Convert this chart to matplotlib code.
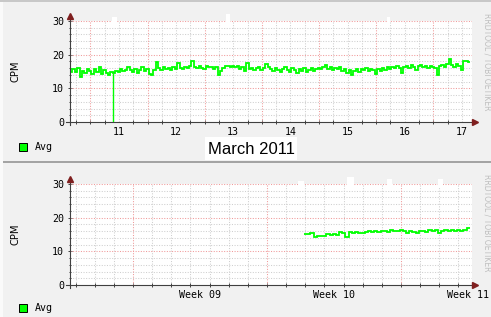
import numpy as np
import matplotlib
matplotlib.use('Agg')
import matplotlib.pyplot as plt
from matplotlib.patches import Rectangle

W, H = 491, 317

# time axis: days relative to Mon 14 March 2011 00:00
# hourly CPM averages for the week graph
week_start = -3.357
week_cpm = [14.8, 15.6, 14.9, 15.9, 13.4, 15.2, 14.6, 15.8, 15.1, 14.4, 15.6, 15.0,
            16.2, 14.2, 15.3, 14.6, 14.0, 14.8, 14.6, 15.2, 14.9, 15.6, 15.1, 15.4,
            16.4, 15.5, 15.0, 15.8, 14.7, 15.3, 16.2, 15.1, 15.6, 14.4, 13.9, 15.5,
            17.8, 15.9, 15.4, 16.2, 15.6, 16.0, 15.5, 16.3, 15.8, 17.6, 16.1, 15.7,
            16.4, 16.0, 16.6, 18.0, 16.2, 15.9, 16.5, 16.1, 15.8, 16.6, 16.2, 16.4,
            15.6, 16.3, 13.9, 15.2, 16.0, 16.5, 16.6, 16.4, 16.5, 16.2, 16.7, 15.6,
            16.3, 15.2, 17.4, 15.6, 16.1, 15.4, 15.9, 16.2, 15.5, 16.0, 17.3, 16.3,
            15.8, 15.2, 16.0, 15.4, 14.9, 15.7, 16.2, 15.3, 14.8, 15.9, 15.5, 14.6,
            15.8, 15.1, 16.0, 14.9, 15.5, 15.9, 15.2, 15.8, 16.1, 15.6, 16.3, 17.0,
            15.7, 16.2, 15.4, 15.9, 15.8, 16.3, 15.1, 15.7, 14.6, 15.4, 13.9, 15.2,
            15.8, 15.0, 15.6, 15.3, 15.9, 15.1, 15.6, 15.4, 14.4, 15.7, 15.2, 16.0,
            15.5, 16.2, 15.8, 16.4, 16.0, 16.6, 15.9, 14.6, 16.2, 16.5, 16.1, 16.8,
            16.3, 15.5, 16.6, 16.9, 16.2, 16.5, 16.1, 16.7, 16.4, 15.9, 13.9, 16.5,
            17.0, 16.4, 17.2, 18.8, 16.9, 16.3, 17.1, 16.6, 15.3, 18.1, 18.1, 17.8]
# short dropout to zero in the hourly log
dropout_t = -2.604
dropout_cpm = 0.0

# 4-hour CPM averages for the month graph
month_start = -5.068
month_cpm = [15.1, 15.1, 15.3, 14.3, 14.5, 14.6, 14.5, 15.1, 14.8, 15.2, 14.9, 15.7,
             15.3, 14.4, 15.6, 15.3, 15.8, 15.5, 15.3, 15.7, 16.0, 15.8, 16.1, 15.7,
             15.9, 16.0, 15.6, 16.4, 16.1, 16.0, 16.2, 15.9, 15.5, 16.0, 15.8, 15.3,
             15.9, 16.1, 15.8, 16.2, 16.0, 16.3, 15.4, 16.0, 16.2, 15.9, 16.2, 16.1,
             16.4, 16.0, 16.3, 16.9]

day_labels = ['11', '12', '13', '14', '15', '16', '17']
week_labels = ['Week 09', 'Week 10', 'Week 11']
week_mondays = [-14, -7, 0]

# white strips sticking out above the plot: (from, to, height above 30)
week_strips = [(-2.622, -2.535, 1.04), (-0.627, -0.557, 1.074), (2.190, 2.243, 1.035)]
month_strips = [(-5.378, -5.064, 1.03), (-2.818, -2.452, 1.07),
                (-0.728, -0.466, 1.05), (1.937, 2.198, 1.05)]

BACK = '#F1F1F1'
GRID = '#CFCFCF'
MGRID = '#F09A9A'
AXIS = '#404040'
ARROW = '#7F1F1F'
LINE = '#00FF00'
MONO = 'DejaVu Sans Mono'


def fx(px):
    return px / W


def fy(py):
    return 1 - py / H


def setup(ax, xlim, minor_x, major_x, label_x, labels, strips):
    ax.set_xlim(*xlim)
    ax.set_ylim(0, 30)
    ax.set_facecolor('white')
    for s in ax.spines.values():
        s.set_visible(False)
    dots = (0, (1, 1.5))
    ymin = [v for v in range(2, 30, 2) if v % 10]
    ax.hlines(ymin, xlim[0], xlim[1], colors=GRID, linestyles=dots, lw=0.75, zorder=1)
    ax.vlines(minor_x, 0, 30, colors=GRID, linestyles=dots, lw=0.75, zorder=1)
    ax.hlines([10, 20, 30], xlim[0], xlim[1], colors=MGRID, linestyles=dots, lw=0.75, zorder=2)
    ax.vlines(major_x, 0, 30, colors=MGRID, linestyles=dots, lw=0.75, zorder=2)

    for a, b, top in strips:
        ax.add_patch(Rectangle((a, 0.96), b - a, top - 0.96, facecolor='white',
                               edgecolor='none', transform=ax.get_xaxis_transform(),
                               clip_on=False, zorder=3))

    ax.set_xticks(label_x, labels)
    ax.set_xticks(np.concatenate([minor_x, major_x]), minor=True)
    ax.set_yticks([0, 10, 20, 30])
    ax.set_yticks(ymin, minor=True)
    ax.tick_params(axis='x', which='major', length=0, pad=3.5, labelsize=7.2)
    ax.tick_params(axis='x', which='minor', length=3, direction='inout', color=AXIS, width=0.7)
    ax.tick_params(axis='y', which='major', length=2.5, direction='inout', color=AXIS,
                   width=0.7, pad=3, labelsize=7.2)
    ax.tick_params(axis='y', which='minor', length=2, direction='inout', color=AXIS, width=0.7)
    for t in ax.get_xticklabels() + ax.get_yticklabels():
        t.set_family(MONO)

    # axes with arrow heads
    ax.plot([-4 / 402, 1 + 2 / 402], [0, 0], transform=ax.transAxes, color=AXIS,
            lw=0.8, clip_on=False, zorder=5)
    ax.plot([0, 0], [-3 / 101, 1 + 4 / 101], transform=ax.transAxes, color=AXIS,
            lw=0.8, clip_on=False, zorder=5)
    ax.plot([1 + 3 / 402], [0], marker='>', ms=4, color=ARROW, transform=ax.transAxes,
            clip_on=False, zorder=6)
    ax.plot([0], [1 + 5 / 101], marker='^', ms=4, color=ARROW, transform=ax.transAxes,
            clip_on=False, zorder=6)
    ax.set_ylabel('CPM', fontsize=7.2, family='DejaVu Sans', labelpad=23)


fig = plt.figure(figsize=(W / 100, H / 100), dpi=100, facecolor=BACK)

# frame shading
fig.add_artist(Rectangle((0, fy(2)), 1, 2 / H, facecolor='#C8C8C8', edgecolor='none',
                         transform=fig.transFigure))
fig.add_artist(Rectangle((0, fy(163)), 1, 2.5 / H, facecolor='#A4A4A4', edgecolor='none',
                         transform=fig.transFigure))
fig.add_artist(Rectangle((0, 0), 3 / W, fy(2), facecolor='#FAFAFA', edgecolor='none',
                         transform=fig.transFigure))

# week graph
ax1 = fig.add_axes([fx(70), fy(122), 402 / W, 101 / H])
xl1 = (week_start, week_start + 402 / 57.15)
days = np.arange(np.ceil(xl1[0] * 4), np.floor(xl1[1] * 4) + 1) / 4
setup(ax1, xl1, days[days % 1 != 0], days[days % 1 == 0],
      [int(d) - 14 + 0.5 for d in day_labels], day_labels, week_strips)
edges = week_start + np.arange(len(week_cpm) + 1) / 24
ax1.stairs(week_cpm, edges, baseline=None, color=LINE, lw=1.3, zorder=4)
i = int((dropout_t - week_start) * 24)
ax1.vlines(dropout_t, dropout_cpm, week_cpm[i], colors=LINE, lw=1.0, zorder=4)

# month graph
ax2 = fig.add_axes([fx(70), fy(285), 402 / W, 101 / H])
xl2 = (-331 / 19.14, -331 / 19.14 + 402 / 19.14)
mdays = np.arange(np.ceil(xl2[0]), np.floor(xl2[1]) + 1)
setup(ax2, xl2, np.array([d for d in mdays if d not in week_mondays]),
      np.array(week_mondays), [m + 3.5 for m in week_mondays], week_labels, month_strips)
edges = month_start + np.arange(len(month_cpm) + 1) / 6
ax2.stairs(month_cpm, edges, baseline=None, color=LINE, lw=1.3, zorder=4)

# legends
for y in (147, 308):
    fig.add_artist(Rectangle((fx(19), fy(y + 4)), 8 / W, 8 / H, facecolor=LINE,
                             edgecolor='black', lw=0.7, transform=fig.transFigure))
    fig.text(fx(35), fy(y), 'Avg', family=MONO, fontsize=7.2, va='center')

# title box between graphs
fig.add_artist(Rectangle((fx(205), fy(160)), 92 / W, 23 / H, facecolor='white',
                         edgecolor='none', transform=fig.transFigure))
fig.text(fx(251), fy(149), 'March 2011', family='Liberation Sans', fontsize=12,
         ha='center', va='center')

# rrdtool watermark
for y in (62, 223):
    fig.text(fx(487.5), fy(y), 'RRDTOOL / TOBI OETIKER', rotation=270, fontsize=5.5,
             color='#BEBEBE', ha='center', va='center')

fig.savefig('out.png', dpi=100, facecolor=BACK)
